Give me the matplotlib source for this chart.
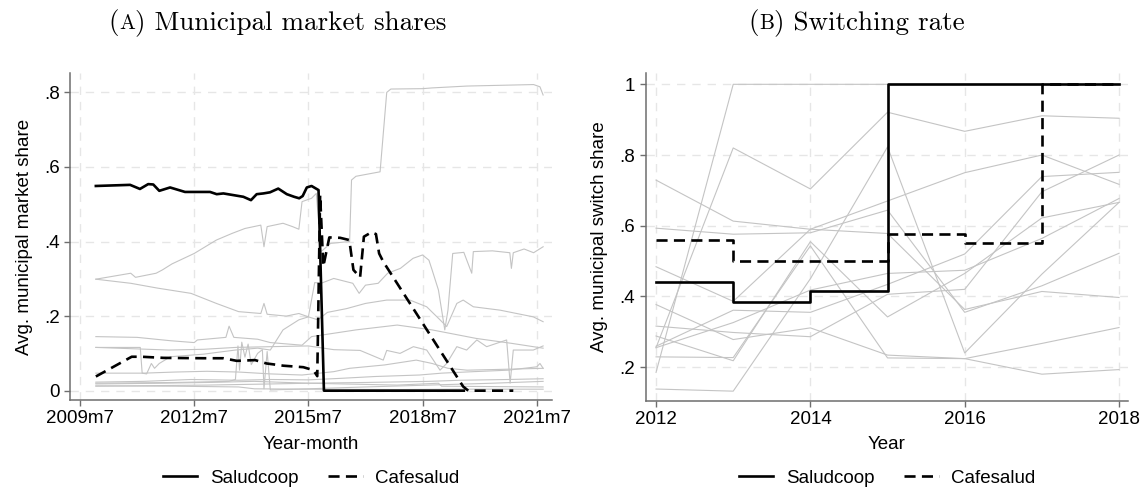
import numpy as np
import matplotlib
matplotlib.use("Agg")
import matplotlib.pyplot as plt

plt.rcParams['font.family'] = ['Liberation Sans', 'DejaVu Sans']

# ---------------- Panel A data (months counted from 2009m7 = 0) ----------------
month_ticks = [0, 36, 72, 108, 144]
month_tick_labels = ["2009m7", "2012m7", "2015m7", "2018m7", "2021m7"]
share_ticks = [0, 0.2, 0.4, 0.6, 0.8]
share_tick_labels = ["0", ".2", ".4", ".6", ".8"]

saludcoop_months = [5, 15.8, 18.9, 21.5, 23.1, 25, 28.4, 33.1, 41, 43.1, 45.2, 49.4, 51.5, 53.9,
                    55.7, 57.8, 59.9, 62.5, 65.2, 67.5, 69.1, 70.2, 71.5, 73, 75.2, 76.9, 121]
saludcoop_share = [0.549, 0.552, 0.541, 0.554, 0.553, 0.536, 0.545, 0.533, 0.533, 0.527, 0.529, 0.523,
                   0.520, 0.511, 0.527, 0.529, 0.532, 0.542, 0.527, 0.520, 0.516, 0.522, 0.545, 0.549,
                   0.538, 0.0, 0.0]

cafesalud_months = [5, 16.3, 19.4, 26.3, 38.9, 45.2, 49.4, 55.2, 58.8, 64.1, 70.4, 73.6, 74.8, 75.7,
                    76.7, 78.6, 82, 84.9, 86.2, 88.3, 89.5, 91.9, 93.3, 94.3, 95.6, 120.8, 122.4, 136.6]
cafesalud_share = [0.038, 0.091, 0.091, 0.088, 0.087, 0.087, 0.080, 0.082, 0.073, 0.067, 0.063, 0.055,
                   0.039, 0.525, 0.333, 0.411, 0.41, 0.404, 0.324, 0.304, 0.413, 0.425, 0.42, 0.368,
                   0.346, 0.011, 0.0, 0.0]

other_a_months = [5, 16, 17.5, 24, 26, 29, 36, 43, 48, 52, 57, 58, 59, 64, 67, 69, 70, 73, 74.5, 76,
                  79, 85, 85.6, 87, 94.6, 96.7, 98, 108, 111, 122, 143, 145, 146]
other_a_share = [0.299, 0.315, 0.304, 0.315, 0.324, 0.34, 0.368, 0.404, 0.422, 0.435, 0.444, 0.386,
                 0.44, 0.449, 0.44, 0.433, 0.507, 0.516, 0.529, 0.373, 0.395, 0.40, 0.565, 0.575,
                 0.587, 0.80, 0.809, 0.81, 0.812, 0.817, 0.821, 0.815, 0.793]

other_b_months = [5, 16, 24.5, 35, 43, 50, 57, 58, 59, 65, 69, 72, 74, 76, 80, 86, 88, 90, 94, 97,
                  101, 105, 108, 110, 111, 113, 115, 116, 117.5, 121, 123.5, 124, 130, 135.5, 136,
                  136.6, 140, 143, 146]
other_b_share = [0.299, 0.288, 0.275, 0.261, 0.234, 0.212, 0.207, 0.234, 0.205, 0.20, 0.207, 0.198,
                 0.29, 0.288, 0.301, 0.288, 0.261, 0.283, 0.288, 0.315, 0.328, 0.355, 0.364, 0.35,
                 0.324, 0.27, 0.163, 0.216, 0.368, 0.371, 0.315, 0.373, 0.375, 0.37, 0.328, 0.37,
                 0.38, 0.37, 0.386]

other_c_months = [5, 18, 28.5, 36, 37, 46, 47, 48.5, 56, 60, 70, 73, 87, 100, 111, 125, 136, 146]
other_c_share = [0.145, 0.143, 0.134, 0.129, 0.136, 0.143, 0.173, 0.143, 0.138, 0.129, 0.122, 0.145,
                 0.163, 0.176, 0.163, 0.14, 0.127, 0.114]

other_d_months = [5, 19, 19.6, 21, 22.5, 23.5, 25, 28.5, 39, 49, 56, 60, 64, 69, 72, 75, 78, 84, 90,
                  96.7, 104, 109.3, 113.5, 115.6, 118.8, 120.8, 124, 132.4, 142.9, 146]
other_d_share = [0.116, 0.116, 0.047, 0.045, 0.073, 0.06, 0.073, 0.091, 0.098, 0.109, 0.114, 0.109,
                 0.163, 0.19, 0.198, 0.19, 0.21, 0.22, 0.234, 0.243, 0.243, 0.225, 0.19, 0.172,
                 0.234, 0.243, 0.225, 0.216, 0.198, 0.185]

other_e_months = [5, 28, 39, 49, 60, 72, 80, 88.3, 95.6, 96.7, 100.9, 105.1, 109.3, 111.4, 113.5,
                  115.6, 118.8, 121.9, 125.1, 128.2, 134.5, 135.6, 136.6, 142.9, 146]
other_e_share = [0.116, 0.109, 0.111, 0.116, 0.118, 0.12, 0.11, 0.108, 0.082, 0.108, 0.10, 0.118,
                 0.109, 0.082, 0.055, 0.073, 0.118, 0.109, 0.136, 0.118, 0.136, 0.02, 0.109, 0.109,
                 0.12]

other_f_months = [5, 20, 30, 40, 50, 60, 70, 80, 85, 96, 106, 111, 116, 122, 132, 146]
other_f_share = [0.047, 0.047, 0.05, 0.052, 0.05, 0.045, 0.042, 0.051, 0.06, 0.069, 0.082, 0.073,
                 0.06, 0.055, 0.057, 0.06]

other_g_months = [5, 20, 35, 50, 60, 72, 82, 93, 107, 114, 124, 135, 144, 145, 146]
other_g_share = [0.023, 0.025, 0.03, 0.028, 0.03, 0.029, 0.033, 0.038, 0.042, 0.047, 0.051, 0.055,
                 0.064, 0.073, 0.06]

other_h_months = [5, 25, 40, 55, 72, 90, 110, 120, 135, 146]
other_h_share = [0.018, 0.02, 0.022, 0.025, 0.02, 0.022, 0.025, 0.028, 0.03, 0.032]

other_i_months = [5, 30, 50, 55, 72, 100, 120, 146]
other_i_share = [0.013, 0.012, 0.01, 0.005, 0.004, 0.003, 0.004, 0.004]

other_j_months = [5, 40, 60, 72, 100, 113, 114, 146]
other_j_share = [0.012, 0.015, 0.018, 0.02, 0.015, 0.02, 0.012, 0.01]

other_k_months = [5, 30, 47, 49, 49.8, 50.3, 51, 52, 53, 54, 56, 57.5, 58, 59, 60, 72, 90, 110, 130, 146]
other_k_share = [0.02, 0.022, 0.025, 0.03, 0.12, 0.055, 0.13, 0.09, 0.125, 0.07, 0.1, 0.11, 0.005,
                 0.105, 0.002, 0.005, 0.01, 0.015, 0.02, 0.025]

# ---------------- Panel B data ----------------
years = [2012, 2013, 2014, 2015, 2016, 2017, 2018]
year_ticks = [2012, 2014, 2016, 2018]
switch_ticks = [0.2, 0.4, 0.6, 0.8, 1.0]
switch_tick_labels = [".2", ".4", ".6", ".8", "1"]

saludcoop_switch = [0.44, 0.385, 0.415, 1.0, 1.0, 1.0, 1.0]
cafesalud_switch = [0.56, 0.50, 0.50, 0.576, 0.551, 1.0, 1.0]

switch_a = [0.185, 1.00, 1.00, 1.00, 1.00, 1.00, 1.00]
switch_b = [0.255, 0.82, 0.704, 0.921, 0.867, 0.911, 0.904]
switch_c = [0.729, 0.613, 0.59, 0.67, 0.75, 0.80, 0.717]
switch_d = [0.593, 0.576, 0.58, 0.644, 0.355, 0.43, 0.522]
switch_e = [0.484, 0.386, 0.59, 0.578, 0.363, 0.414, 0.397]
switch_f = [0.377, 0.278, 0.311, 0.234, 0.224, 0.267, 0.312]
switch_g = [0.316, 0.298, 0.286, 0.406, 0.42, 0.696, 0.80]
switch_h = [0.288, 0.218, 0.555, 0.342, 0.465, 0.622, 0.666]
switch_i = [0.259, 0.361, 0.355, 0.434, 0.52, 0.739, 0.751]
switch_j = [0.255, 0.326, 0.418, 0.465, 0.474, 0.564, 0.677]
switch_k = [0.229, 0.227, 0.543, 0.226, 0.224, 0.18, 0.193]
switch_l = [0.138, 0.132, 0.45, 0.823, 0.24, 0.463, 0.666]

# ---------------- figure ----------------
W, H = 1142, 491
fig = plt.figure(figsize=(W / 100, H / 100), dpi=100)

GREY = "#c4c4c4"
GRID = "#e6e6e6"
SPINE = "#6e6e6e"
FS = 13.5
SOLID_LW = 1.9
DASH = (0, (4.2, 2.4))


def px_axes(x0, y0, x1, y1):
    return fig.add_axes([x0 / W, 1 - y1 / H, (x1 - x0) / W, (y1 - y0) / H])


def style(ax):
    for s in ["top", "right"]:
        ax.spines[s].set_visible(False)
    for s in ["left", "bottom"]:
        ax.spines[s].set_color(SPINE)
        ax.spines[s].set_linewidth(1.1)
    ax.tick_params(direction="out", length=4.5, width=1.0, color=SPINE,
                   labelsize=FS, pad=3)
    ax.grid(True, color=GRID, linestyle=(0, (6, 5)), linewidth=1.0)
    ax.set_axisbelow(True)


# Panel A
axA = px_axes(70, 73, 552, 400)
style(axA)
greys_a = [(other_a_months, other_a_share), (other_b_months, other_b_share),
           (other_c_months, other_c_share), (other_d_months, other_d_share),
           (other_e_months, other_e_share), (other_f_months, other_f_share),
           (other_g_months, other_g_share), (other_h_months, other_h_share),
           (other_i_months, other_i_share), (other_j_months, other_j_share),
           (other_k_months, other_k_share)]
for mm, vv in greys_a:
    axA.plot(mm, vv, color=GREY, lw=0.8, zorder=2)
axA.plot(saludcoop_months, saludcoop_share, color="black", lw=SOLID_LW, zorder=4,
         label="Saludcoop")
axA.plot(cafesalud_months, cafesalud_share, color="black", lw=SOLID_LW, linestyle=DASH,
         zorder=4, label="Cafesalud")
axA.set_xlim(-3.15, 148.8)
axA.set_ylim(-0.025, 0.852)
axA.set_xticks(month_ticks)
axA.set_xticklabels(month_tick_labels)
axA.set_yticks(share_ticks)
axA.set_yticklabels(share_tick_labels)
axA.set_xlabel("Year-month", fontsize=FS, labelpad=6)
axA.set_ylabel("Avg. municipal market share", fontsize=FS, labelpad=8)

# Panel B
axB = px_axes(645.7, 73, 1128, 400.7)
style(axB)
for vals in [switch_a, switch_b, switch_c, switch_d, switch_e, switch_f, switch_g,
             switch_h, switch_i, switch_j, switch_k, switch_l]:
    axB.plot(years, vals, color=GREY, lw=0.8, zorder=2)
axB.plot(years, saludcoop_switch, color="black", lw=SOLID_LW, drawstyle="steps-post",
         zorder=4, label="Saludcoop")
axB.plot(years, cafesalud_switch, color="black", lw=SOLID_LW, linestyle=DASH,
         drawstyle="steps-post", zorder=4, label="Cafesalud")
axB.set_xlim(2011.866, 2018.116)
axB.set_ylim(0.105, 1.032)
axB.set_xticks(year_ticks)
axB.set_yticks(switch_ticks)
axB.set_yticklabels(switch_tick_labels)
axB.set_xlabel("Year", fontsize=FS, labelpad=6)
axB.set_ylabel("Avg. municipal switch share", fontsize=FS, labelpad=8)

# Legends
for ax, xc in [(axA, 311 / W), (axB, 887 / W)]:
    h, l = ax.get_legend_handles_labels()
    fig.legend(h, l, loc="center", bbox_to_anchor=(xc, 1 - 478 / H), ncol=2,
               frameon=False, fontsize=FS, handlelength=1.85, handletextpad=0.65,
               columnspacing=1.6, borderaxespad=0, borderpad=0)

# Titles with small-caps letter
renderer = fig.canvas.get_renderer()


def sc_title(xc_px, base_px, letter, rest, size=19.5):
    pieces = [("(", size), (letter, size * 0.78), (") " + rest, size)]
    texts = []
    widths = []
    for s, fs in pieces:
        t = fig.text(0, 1 - base_px / H, s, fontsize=fs, family="cmr10", ha="left",
                     va="baseline")
        widths.append(t.get_window_extent(renderer).width)
        texts.append(t)
    total = sum(widths)
    x = xc_px - total / 2
    for t, w in zip(texts, widths):
        t.set_x(x / W)
        x += w


sc_title(277.5, 29, "A", "Municipal market shares")
sc_title(856.5, 29, "B", "Switching rate")

fig.savefig("out.png", dpi=100)
